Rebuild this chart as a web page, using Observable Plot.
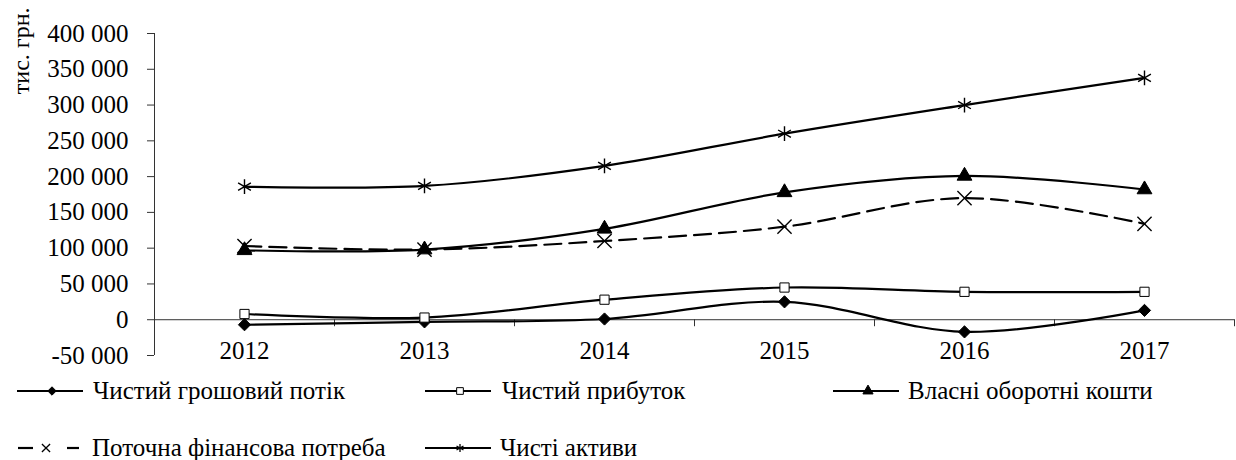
<!DOCTYPE html>
<html><head><meta charset="utf-8">
<script src="https://cdn.jsdelivr.net/npm/d3@7"></script>
<script src="https://cdn.jsdelivr.net/npm/@observablehq/plot@0.6"></script>
<style>
body{margin:0;background:#fff;font-family:'Liberation Serif', serif;}
#legend{position:relative;width:1236px;height:90px;font-family:'Liberation Serif', serif;}
.item{position:absolute;font-size:25px;color:#000;white-space:nowrap;height:30px;line-height:30px;}
.item svg{position:absolute;left:0;top:5px;}
.item span{position:absolute;top:0;font-family:'Liberation Serif', serif;}
svg text{font-family:'Liberation Serif', serif;}
</style></head><body>
<div id="chart"></div><div id="legend"></div>
<script>
const years = [2012, 2013, 2014, 2015, 2016, 2017];
const cashFlow = [-7000, -3000, 1000, 25000, -17000, 13000];
const netProfit = [8000, 3000, 28000, 45000, 39000, 39000];
const ownWorkingCapital = [97000, 98000, 127000, 178000, 201000, 182000];
const financialNeed = [103000, 98000, 110000, 130000, 170000, 134000];
const netAssets = [186000, 187000, 215000, 260000, 300000, 338000];
const seriesNames = ["Чистий грошовий потік", "Чистий прибуток", "Власні оборотні кошти", "Поточна фінансова потреба", "Чисті активи"];
const yTicks = [-50000, 0, 50000, 100000, 150000, 200000, 250000, 300000, 350000, 400000];
const xBoundaries = [2011.5, 2012.5, 2013.5, 2014.5, 2015.5, 2016.5, 2017.5];
const yLabel = "тис. грн.";

const FONT = "Liberation Serif";
const seriesValues = [cashFlow, netProfit, ownWorkingCapital, financialNeed, netAssets];
const styles = [
  {symbol: "diamond2", fill: "#000", dash: null, r: 5.5},
  {symbol: "square", fill: "#fff", dash: null, r: 5.2},
  {symbol: "triangle", fill: "#000", dash: null, r: 5.5},
  {symbol: "times", fill: "none", dash: "17,8", r: 6.5},
  {symbol: "asterisk", fill: "none", dash: null, r: 7}
];
const rows = [];
seriesNames.forEach((name, s) => years.forEach((yr, i) => rows.push({series: name, s, year: yr, value: seriesValues[s][i]})));

const fmt = d => (d < 0 ? "-" : "") + String(Math.abs(d)).replace(/\B(?=(\d{3})+(?!\d))/g, " ");

const marks = [
  Plot.ruleX([xBoundaries[0]], {y1: yTicks[0], y2: yTicks[yTicks.length - 1], stroke: "#333"}),
  Plot.axisY({ticks: yTicks, tickFormat: fmt, tickSize: 7, tickPadding: 19, label: null, fontSize: 25, fontFamily: FONT, stroke: "#333", fill: "#000"}),
  Plot.ruleY([0], {x1: xBoundaries[0], x2: xBoundaries[xBoundaries.length - 1], stroke: "#333"}),
  Plot.ruleX(xBoundaries.slice(1), {y1: 0, y2: 0, insetBottom: -7, stroke: "#333"}),
  Plot.text(years, {x: d => d, y: 0, text: d => String(d), dy: 31, fontSize: 25, fontFamily: FONT, fill: "#000"}),
  Plot.text([yLabel], {frameAnchor: "top-left", text: d => d, rotate: -90, textAnchor: "end", dx: -143, dy: -26, fontSize: 24, fontFamily: FONT, fill: "#000"})
];
seriesNames.forEach((name, s) => {
  const data = rows.filter(r => r.s === s);
  marks.push(Plot.line(data, {x: "year", y: "value", curve: "cardinal", stroke: "#000", strokeWidth: 2.2, strokeDasharray: styles[s].dash}));
});
seriesNames.forEach((name, s) => {
  const data = rows.filter(r => r.s === s);
  const st = styles[s];
  marks.push(Plot.dot(data, {x: "year", y: "value", symbol: () => st.symbol, r: st.r,
    fill: st.fill, stroke: "#000", strokeWidth: st.fill === "none" ? 1.4 : 1}));
});

const chart = Plot.plot({
  width: 1236, height: 370, marginLeft: 154, marginRight: 2, marginTop: 33, marginBottom: 15,
  style: {fontFamily: FONT, fontSize: "25px", color: "#000", background: "#fff", overflow: "visible"},
  x: {domain: [xBoundaries[0], xBoundaries[xBoundaries.length - 1]], range: [154, 1234], axis: null},
  y: {domain: [yTicks[0], yTicks[yTicks.length - 1]], range: [355, 33], axis: null},
  symbol: {type: "identity"},
  marks
});
document.getElementById("chart").appendChild(chart);

// legend
const legendPos = [
  {left: 17, top: 6, text: 76}, {left: 425, top: 6, text: 77}, {left: 833, top: 6, text: 75},
  {left: 17, top: 63, text: 75}, {left: 425, top: 63, text: 75}
];
const symMap = {diamond2: d3.symbolDiamond2, square: d3.symbolSquare, triangle: d3.symbolTriangle, times: d3.symbolTimes, asterisk: d3.symbolAsterisk};
const legend = d3.select("#legend");
seriesNames.forEach((name, s) => {
  const st = styles[s];
  const p = legendPos[s];
  const item = legend.append("div").attr("class", "item").style("left", p.left + "px").style("top", p.top + "px");
  const svg = item.append("svg").attr("width", 66).attr("height", 20);
  if (st.dash) {
    svg.append("line").attr("x1", 1).attr("x2", 16).attr("y1", 10).attr("y2", 10).attr("stroke", "#000").attr("stroke-width", 2.2);
    svg.append("line").attr("x1", 50).attr("x2", 62).attr("y1", 10).attr("y2", 10).attr("stroke", "#000").attr("stroke-width", 2.2);
  } else {
    svg.append("line").attr("x1", 0).attr("x2", 66).attr("y1", 10).attr("y2", 10).attr("stroke", "#000").attr("stroke-width", 2.2);
  }
  svg.append("path").attr("transform", `translate(${st.dash ? 29 : 35},10)`)
    .attr("d", d3.symbol(symMap[st.symbol], 45)())
    .attr("fill", st.fill).attr("stroke", "#000").attr("stroke-width", st.fill === "none" ? 1.3 : 1);
  item.append("span").style("left", p.text + "px").text(name);
});
</script>
</body></html>
